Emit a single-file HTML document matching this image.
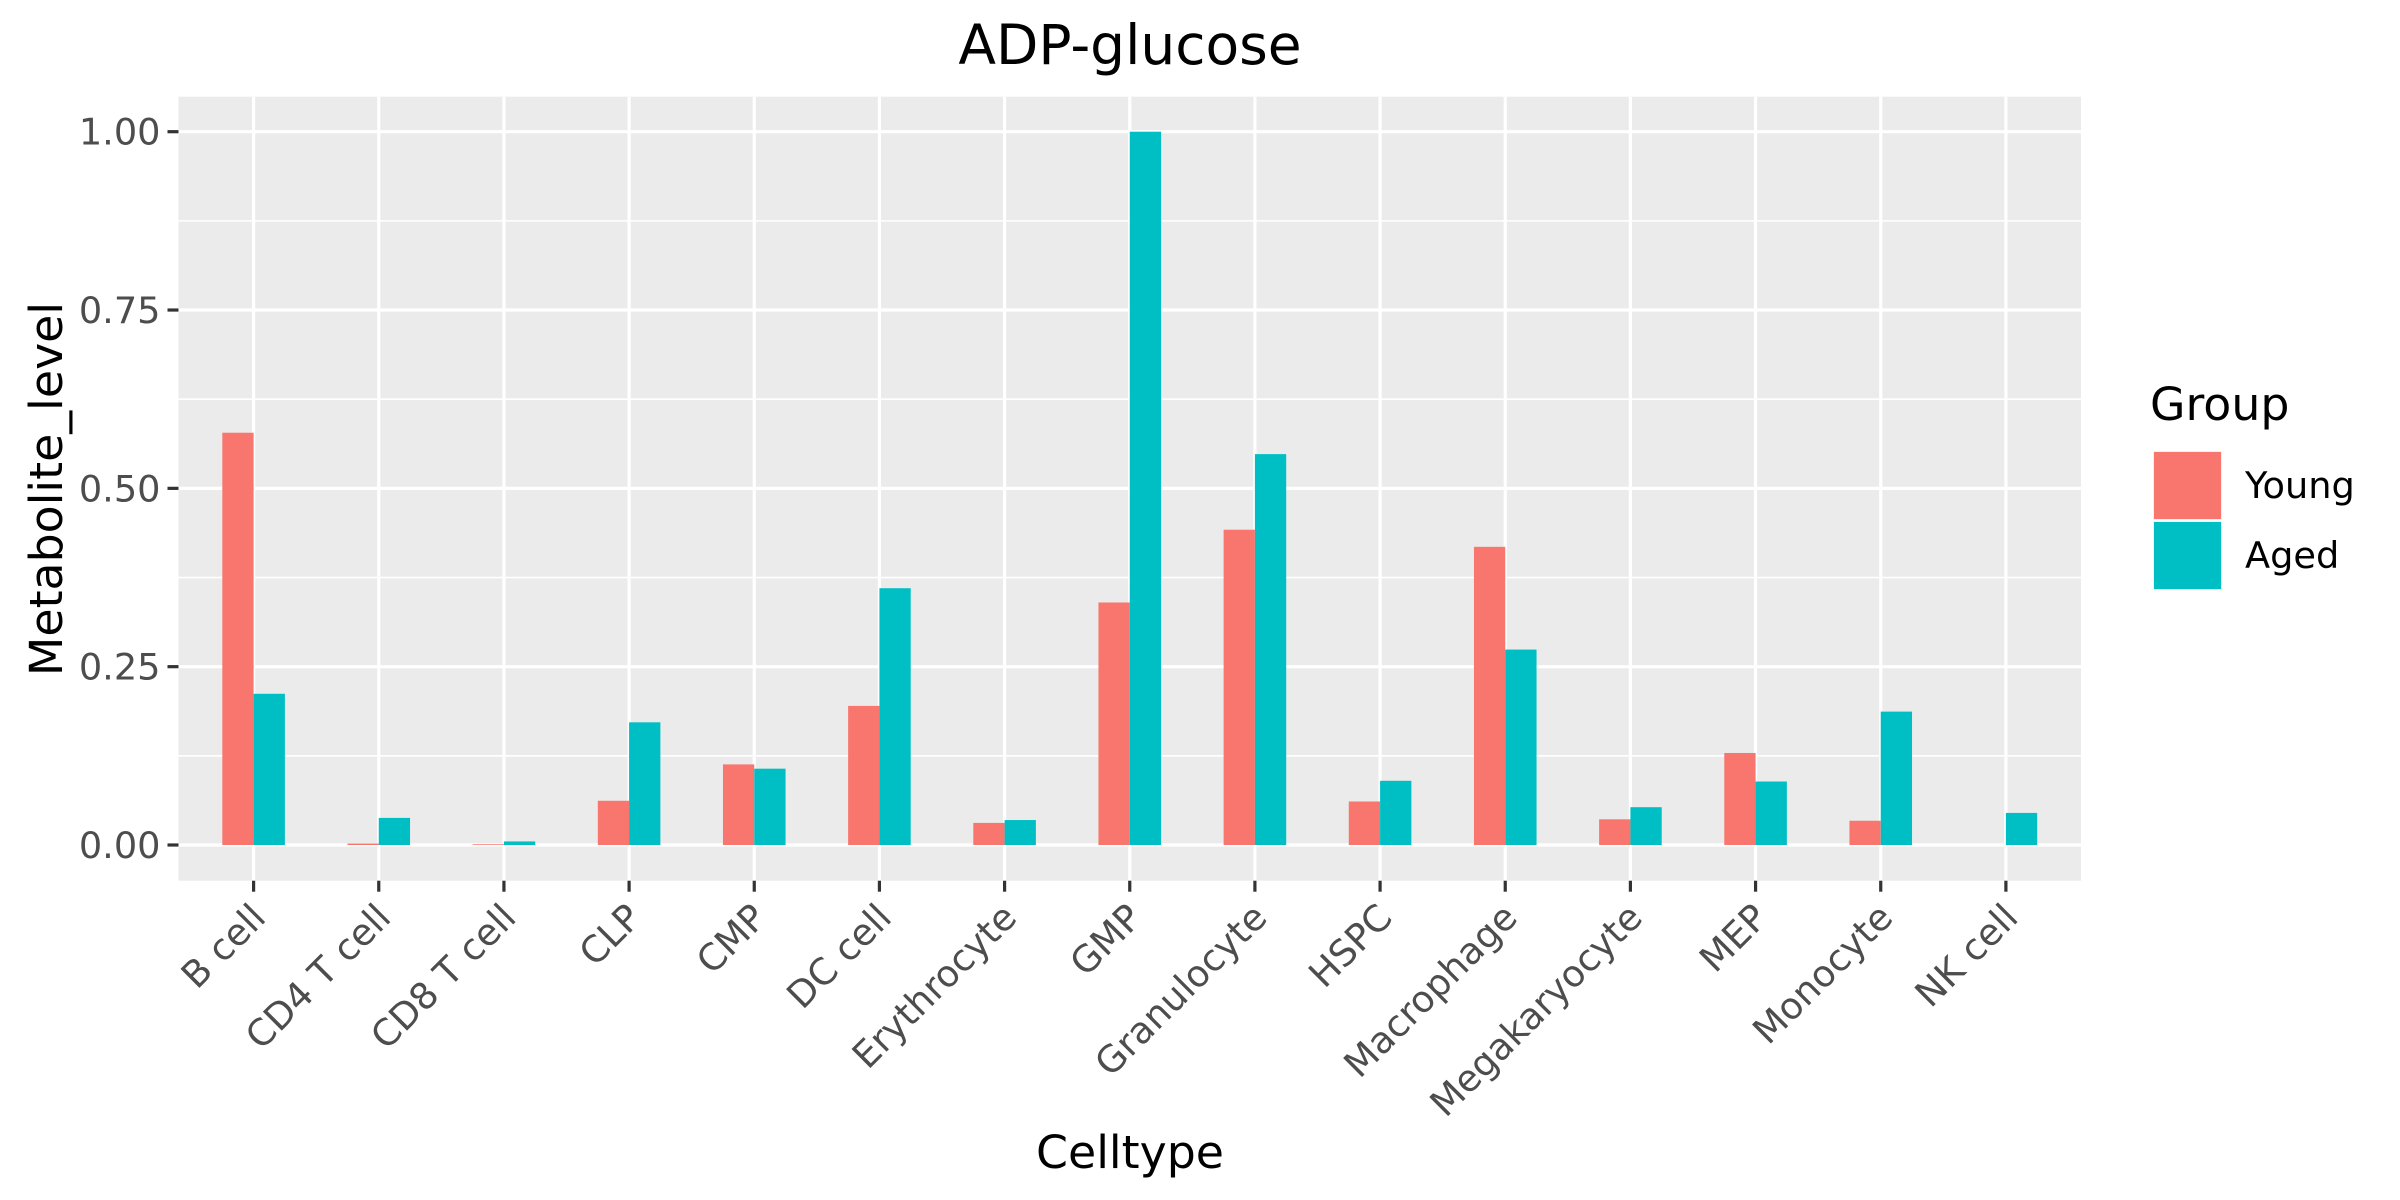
<!DOCTYPE html>
<html><head><meta charset="utf-8"><style>
html,body{margin:0;padding:0;background:#fff;}
svg{display:block;font-family:"DejaVu Sans","Liberation Sans",sans-serif;}
</style></head><body>
<svg id="chart" width="2400" height="1200" viewBox="0 0 2400 1200" xmlns="http://www.w3.org/2000/svg">
<rect x="178.5" y="96.7" width="1902.5" height="784" fill="#EBEBEB"/>
<g id="grid"></g><g id="bars"></g><g id="axes"></g>
<text x="1130" y="64" font-size="55" text-anchor="middle" fill="#000">ADP-glucose</text>
<text x="1130" y="1168" font-size="45.8" text-anchor="middle" fill="#000">Celltype</text>
<text transform="translate(62,489) rotate(-90)" font-size="45.8" text-anchor="middle" fill="#000">Metabolite_level</text>
<g>
<text x="2150" y="420" font-size="45.8" fill="#000">Group</text>
<rect x="2153" y="451" width="69" height="69" fill="#F2F2F2"/>
<rect x="2154" y="452" width="67" height="67" fill="#F8766D"/>
<text x="2245" y="498" font-size="36.7" fill="#000">Young</text>
<rect x="2153" y="521" width="69" height="69" fill="#F2F2F2"/>
<rect x="2154" y="522" width="67" height="67" fill="#00BFC4"/>
<text x="2245" y="568" font-size="36.7" fill="#000">Aged</text>
</g>
</svg>
<script>
const categories = ["B cell","CD4 T cell","CD8 T cell","CLP","CMP","DC cell","Erythrocyte","GMP","Granulocyte","HSPC","Macrophage","Megakaryocyte","MEP","Monocyte","NK cell"];
const youngValues = [0.578,0.002,0.001,0.062,0.113,0.195,0.031,0.340,0.442,0.061,0.418,0.036,0.129,0.034,null];
const agedValues = [0.212,0.038,0.005,0.172,0.107,0.360,0.035,1.000,0.548,0.090,0.274,0.053,0.089,0.187,0.045];
const yTicks = [0,0.25,0.5,0.75,1.0];
const yTickLabels = ["0.00","0.25","0.50","0.75","1.00"];
const NS="http://www.w3.org/2000/svg";
const PL=178.5, PR=2081, PT=96.7, PB=880.7;
const step=(PR-PL)/(categories.length-1+1.2);
function xPos(i){return PL+(i+0.6)*step;}
function yPos(v){return 845-v*713.3;}
function mk(tag,attrs,parent){const e=document.createElementNS(NS,tag);for(const k in attrs)e.setAttribute(k,attrs[k]);parent.appendChild(e);return e;}
const grid=document.getElementById('grid'), bars=document.getElementById('bars'), axes=document.getElementById('axes');
for(let i=0;i<yTicks.length-1;i++){
  const y=yPos((yTicks[i]+yTicks[i+1])/2);
  const l=mk('line',{x1:PL,x2:PR,y1:y,y2:y,stroke:'#fff','stroke-width':1.6},grid);
  
  
}
yTicks.forEach((v,i)=>{
  const y=yPos(v);
  const l=mk('line',{x1:PL,x2:PR,y1:y,y2:y,stroke:'#fff','stroke-width':3.2},grid);
  
  
  const t=mk('line',{x1:PL-11,x2:PL,y1:y,y2:y,stroke:'#333','stroke-width':3.2},axes);
  
  
  const tx=mk('text',{x:PL-18,y:y+13,'font-size':36.7,'text-anchor':'end',fill:'#4D4D4D'},axes);
  tx.textContent=yTickLabels[i];
  
  
});
const bw=step*0.25;
categories.forEach((c,i)=>{
  const x=xPos(i);
  const l=mk('line',{x1:x,x2:x,y1:PT,y2:PB,stroke:'#fff','stroke-width':3.2},grid);
  
  
  if(youngValues[i]!=null){
    const r=mk('rect',{x:x-bw,y:Math.min(yPos(youngValues[i]),yPos(0)),width:bw,height:Math.abs(yPos(0)-yPos(youngValues[i])),fill:'#F8766D'},bars);
    
    
  }
  if(agedValues[i]!=null){
    const r=mk('rect',{x:x,y:Math.min(yPos(agedValues[i]),yPos(0)),width:bw,height:Math.abs(yPos(0)-yPos(agedValues[i])),fill:'#00BFC4'},bars);
    
    
  }
  const t=mk('line',{x1:x,x2:x,y1:PB,y2:PB+11,stroke:'#333','stroke-width':3.2},axes);
  
  
  const tx=mk('text',{transform:`translate(${x+14},${PB+39}) rotate(-45)`,'font-size':36.7,'text-anchor':'end',fill:'#4D4D4D'},axes);
  tx.textContent=c;
  
  
});
</script>
</body></html>
